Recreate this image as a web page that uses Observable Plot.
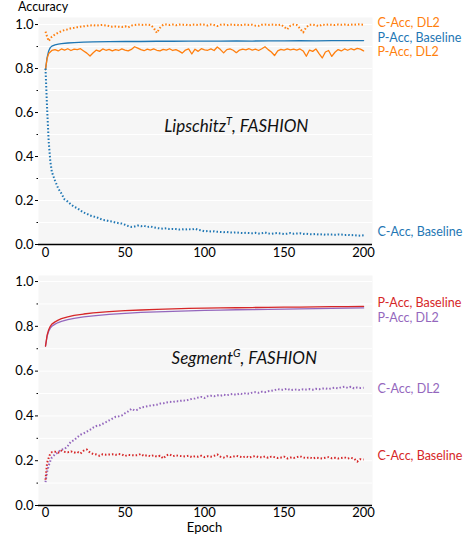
<!DOCTYPE html>
<html><head><meta charset="utf-8">
<script src="https://cdn.jsdelivr.net/npm/d3@7"></script>
<script src="https://cdn.jsdelivr.net/npm/@observablehq/plot@0.6"></script>
<style>
body{margin:0;background:#fff;font-family:Lato, "Open Sans", sans-serif;}
#wrap{position:relative;width:473px;height:536px;}
#ylab{position:absolute;left:18px;top:-1px;font-size:12.5px;color:#000;}
svg{display:block}
</style></head><body><div id="wrap"><div id="ylab">Accuracy</div><div id="top"></div><div id="bot"></div></div>
<script>
// ---------- data ----------
// dense epochs: 0..4, then every 2 epochs up to 200
const epochsDense = [0, 1, 2, 3, 4, ...d3.range(6, 201, 2)];
// sparse epochs for smooth curves
const epochsSparse = [0,1,2,3,4,6,8,10,14,18,24,30,40,50,60,70,80,90,100,110,120,130,140,150,160,170,180,190,200];

const xTicks = [0, 50, 100, 150, 200];
const yMajor = [0, 0.2, 0.4, 0.6, 0.8, 1.0];
const yMinor = [0.1, 0.3, 0.5, 0.7, 0.9];

// ---- Top panel: Lipschitz^T, FASHION ----
const topPAccDL2 = [
 0.795, 0.845, 0.868, 0.875, 0.882,
 0.886, 0.880, 0.889, 0.884, 0.890, 0.882, 0.888, 0.886, 0.890, 0.880,
 0.870, 0.857, 0.872, 0.884, 0.878, 0.889, 0.883, 0.887, 0.880, 0.886,
 0.882, 0.889, 0.884, 0.880, 0.887, 0.899, 0.893, 0.886, 0.881, 0.888,
 0.884, 0.889, 0.883, 0.880, 0.887, 0.884, 0.890, 0.882, 0.886, 0.879,
 0.870, 0.884, 0.889, 0.866, 0.888, 0.878, 0.890, 0.885, 0.883, 0.889,
 0.882, 0.898, 0.886, 0.871, 0.886, 0.889, 0.883, 0.872, 0.884, 0.888,
 0.885, 0.890, 0.884, 0.888, 0.882, 0.890, 0.899, 0.886, 0.875, 0.859,
 0.880, 0.887, 0.884, 0.889, 0.885, 0.888, 0.884, 0.889, 0.880, 0.856,
 0.884, 0.878, 0.889, 0.868, 0.848, 0.875, 0.882, 0.855, 0.874, 0.886,
 0.880, 0.889, 0.883, 0.890, 0.885, 0.892, 0.888, 0.880
];
const topCAccDL2 = [
 0.968, 0.945, 0.925, 0.935, 0.945,
 0.955, 0.963, 0.970, 0.975, 0.978, 0.983, 0.985, 0.988, 0.990, 0.992,
 0.994, 0.996, 0.997, 0.995, 0.997, 0.998, 0.996, 0.993, 0.990, 0.991,
 0.990, 0.989, 0.992, 0.987, 0.995, 0.998, 1.000, 0.999, 0.998, 1.000,
 0.998, 0.985, 0.962, 0.985, 0.999, 1.000, 0.998, 1.000, 0.997, 1.000,
 0.999, 1.000, 0.996, 0.999, 1.000, 0.998, 1.001, 0.999, 0.996, 1.000,
 0.998, 0.993, 0.999, 1.000, 0.997, 1.000, 0.998, 1.000, 0.996, 0.999,
 1.000, 0.998, 0.999, 0.995, 0.994, 0.999, 1.000, 0.998, 1.000, 0.999,
 0.997, 1.000, 0.990, 0.978, 0.995, 1.000, 0.998, 0.982, 0.964, 0.988,
 0.999, 1.000, 0.997, 0.993, 1.000, 0.998, 1.000, 0.999, 0.998, 1.000,
 0.999, 1.000, 0.998, 1.000, 0.999, 1.001, 1.000, 0.999
];
const topCAccBaseline = [
 0.800, 0.620, 0.470, 0.380, 0.330,
 0.290, 0.255, 0.232, 0.205, 0.195, 0.182, 0.172, 0.165, 0.155, 0.145,
 0.140, 0.132, 0.128, 0.124, 0.118, 0.112, 0.110, 0.106, 0.104, 0.100,
 0.097, 0.095, 0.090, 0.084, 0.080, 0.082, 0.086, 0.083, 0.085, 0.080,
 0.082, 0.078, 0.075, 0.073, 0.072, 0.074, 0.070, 0.071, 0.070, 0.068,
 0.069, 0.068, 0.070, 0.068, 0.072, 0.067, 0.064, 0.060, 0.061, 0.059,
 0.060, 0.058, 0.057, 0.056, 0.057, 0.055, 0.054, 0.055, 0.053, 0.052,
 0.053, 0.052, 0.051, 0.053, 0.050, 0.051, 0.055, 0.050, 0.049, 0.051,
 0.052, 0.050, 0.048, 0.049, 0.052, 0.049, 0.050, 0.051, 0.048, 0.049,
 0.047, 0.046, 0.048, 0.045, 0.047, 0.044, 0.046, 0.045, 0.044, 0.046,
 0.045, 0.043, 0.044, 0.042, 0.043, 0.041, 0.040, 0.042
];
const topPAccBaseline = [0.795,0.850,0.880,0.895,0.902,0.908,0.911,0.913,0.916,0.918,0.920,0.921,0.922,0.923,0.923,0.924,0.924,0.925,0.925,0.925,0.926,0.925,0.926,0.926,0.927,0.926,0.927,0.927,0.927];

// ---- Bottom panel: Segment^G, FASHION ----
const botCAccBaseline = [
 0.115, 0.190, 0.212, 0.232, 0.238,
 0.240, 0.236, 0.245, 0.240, 0.238, 0.242, 0.236, 0.240, 0.232, 0.245,
 0.250, 0.236, 0.230, 0.228, 0.222, 0.229, 0.227, 0.228, 0.229, 0.226,
 0.230, 0.228, 0.221, 0.226, 0.225, 0.224, 0.225, 0.230, 0.221, 0.225,
 0.220, 0.224, 0.218, 0.222, 0.210, 0.224, 0.228, 0.220, 0.224, 0.222,
 0.220, 0.219, 0.222, 0.216, 0.220, 0.218, 0.222, 0.216, 0.220, 0.218,
 0.222, 0.228, 0.218, 0.214, 0.220, 0.216, 0.218, 0.222, 0.218, 0.215,
 0.220, 0.214, 0.218, 0.221, 0.216, 0.215, 0.219, 0.213, 0.218, 0.216,
 0.212, 0.214, 0.218, 0.210, 0.214, 0.212, 0.216, 0.220, 0.214, 0.212,
 0.215, 0.210, 0.214, 0.212, 0.210, 0.213, 0.216, 0.211, 0.213, 0.210,
 0.212, 0.215, 0.210, 0.213, 0.209, 0.196, 0.207, 0.205
];
const botCAccDL2 = [
 0.104, 0.150, 0.178, 0.198, 0.215,
 0.228, 0.238, 0.250, 0.252, 0.266, 0.285, 0.292, 0.305, 0.316, 0.322,
 0.330, 0.338, 0.348, 0.355, 0.358, 0.365, 0.372, 0.380, 0.388, 0.396,
 0.398, 0.402, 0.412, 0.420, 0.432, 0.425, 0.428, 0.438, 0.440, 0.443,
 0.446, 0.448, 0.450, 0.455, 0.456, 0.460, 0.463, 0.462, 0.466, 0.465,
 0.470, 0.468, 0.472, 0.476, 0.478, 0.482, 0.485, 0.480, 0.488, 0.490,
 0.488, 0.492, 0.490, 0.495, 0.492, 0.496, 0.498, 0.494, 0.500, 0.497,
 0.502, 0.499, 0.504, 0.506, 0.503, 0.508, 0.506, 0.510, 0.512, 0.515,
 0.520, 0.516, 0.518, 0.522, 0.515, 0.517, 0.518, 0.515, 0.519, 0.518,
 0.520, 0.517, 0.521, 0.519, 0.522, 0.523, 0.520, 0.524, 0.526, 0.523,
 0.528, 0.530, 0.525, 0.530, 0.523, 0.527, 0.525, 0.526
];
const botPAccBaseline = [0.712,0.760,0.785,0.800,0.810,0.820,0.828,0.834,0.842,0.849,0.855,0.860,0.866,0.870,0.873,0.876,0.878,0.880,0.881,0.882,0.883,0.884,0.885,0.886,0.886,0.887,0.888,0.888,0.889];
const botPAccDL2 = [0.712,0.755,0.778,0.792,0.800,0.810,0.817,0.822,0.830,0.836,0.842,0.847,0.853,0.858,0.862,0.865,0.867,0.869,0.871,0.872,0.874,0.875,0.876,0.877,0.878,0.879,0.880,0.881,0.882];

// end labels
const topLabels = ["C-Acc, DL2", "P-Acc, Baseline", "P-Acc, DL2", "C-Acc, Baseline"];
const topLabelY = [1.009, 0.941, 0.873, 0.059];
const topLabelColor = ["#ff7f0e", "#1f77b4", "#ff7f0e", "#1f77b4"];
const botLabels = ["P-Acc, Baseline", "P-Acc, DL2", "C-Acc, DL2", "C-Acc, Baseline"];
const botLabelY = [0.902, 0.835, 0.522, 0.219];
const botLabelColor = ["#d62728", "#9467bd", "#9467bd", "#d62728"];

// ---------- drawing ----------
const zip = (xs, ys) => ys.map((v, i) => ({x: xs[i], y: v}));
const labelRows = (names, ys, cols) => names.map((n, i) => ({name: n, y: ys[i], color: cols[i]}));

function panel({height, marginTop, marginBottom, yMax, solid, dotted, labels, note, noteX, noteY, epochLabel}) {
  const marks = [
    Plot.frame({fill: "#f6f6f6", stroke: null}),
    Plot.gridY(d3.range(1, 11).map(i => i / 10), {stroke: "#fff", strokeOpacity: 1, strokeWidth: 1}),
    Plot.axisY({ticks: yMajor, tickFormat: d3.format(".1f"), tickSize: 3, tickPadding: 2, label: null, fontSize: 13}),
    Plot.axisY({ticks: yMinor, tickFormat: () => "", tickSize: 1.5, label: null}),
    Plot.axisX({ticks: xTicks, tickSize: 0, tickPadding: epochLabel ? 2 : 3, label: null, fontSize: 13}),
    Plot.ruleY([0], {stroke: "#000", strokeWidth: 1.5}),
  ];
  for (const s of solid) marks.push(Plot.line(s.data, {x: "x", y: "y", stroke: s.color, strokeWidth: 1.3}));
  for (const s of dotted) marks.push(Plot.line(s.data, {x: "x", y: "y", stroke: s.color, strokeWidth: 2, strokeDasharray: "1.5,2", strokeLinecap: "butt"}));
  marks.push(Plot.text(labels, {y: "y", text: "name", fill: "color", frameAnchor: "right", dx: 5, textAnchor: "start", fontSize: 12.5}));
  marks.push(Plot.text([note], {x: () => noteX, y: () => noteY, text: d => d, fontStyle: "italic", fontSize: 17, fill: "#111", className: "note"}));
  if (epochLabel) marks.push(Plot.text([epochLabel], {x: () => 100, frameAnchor: "bottom", dy: 26, text: d => d, fontSize: 13}));
  return Plot.plot({
    width: 473, height, marginLeft: 38, marginRight: 101, marginTop, marginBottom,
    x: {domain: [-4.4, 205.6]},
    y: {domain: [0, yMax]},
    color: {type: "identity"},
    style: {fontFamily: "Lato, 'Open Sans', sans-serif", fontSize: "13px", color: "#000", background: "transparent", overflow: "visible"},
    marks
  });
}

function superscriptNote(svg) {
  svg.querySelectorAll("text").forEach(t => {
    if (t.textContent.includes("|")) {
      const [a, sup, b] = t.textContent.split("|");
      t.textContent = "";
      const ns = "http://www.w3.org/2000/svg";
      const t1 = document.createElementNS(ns, "tspan"); t1.textContent = a;
      const t2 = document.createElementNS(ns, "tspan"); t2.textContent = sup; t2.setAttribute("dy", "-7"); t2.setAttribute("font-size", "11");
      const t3 = document.createElementNS(ns, "tspan"); t3.textContent = b; t3.setAttribute("dy", "7");
      t.append(t1, t2, t3);
    }
  });
}

const topChart = panel({
  height: 265, marginTop: 17, marginBottom: 21, yMax: 1.032,
  solid: [
    {data: zip(epochsSparse, topPAccBaseline), color: "#1f77b4"},
    {data: zip(epochsDense, topPAccDL2), color: "#ff7f0e"},
  ],
  dotted: [
    {data: zip(epochsDense, topCAccDL2), color: "#ff7f0e"},
    {data: zip(epochsDense, topCAccBaseline), color: "#1f77b4"},
  ],
  labels: labelRows(topLabels, topLabelY, topLabelColor),
  note: "Lipschitz|T|, FASHION", noteX: 120, noteY: 0.536
});
superscriptNote(topChart);
document.getElementById("top").append(topChart);

const botChart = panel({
  height: 271, marginTop: 10, marginBottom: 31, yMax: 1.027,
  solid: [
    {data: zip(epochsSparse, botPAccDL2), color: "#9467bd"},
    {data: zip(epochsSparse, botPAccBaseline), color: "#d62728"},
  ],
  dotted: [
    {data: zip(epochsDense, botCAccDL2), color: "#9467bd"},
    {data: zip(epochsDense, botCAccBaseline), color: "#d62728"},
  ],
  labels: labelRows(botLabels, botLabelY, botLabelColor),
  note: "Segment|G|, FASHION", noteX: 125, noteY: 0.656,
  epochLabel: "Epoch"
});
superscriptNote(botChart);
document.getElementById("bot").append(botChart);
</script>
</body></html>
